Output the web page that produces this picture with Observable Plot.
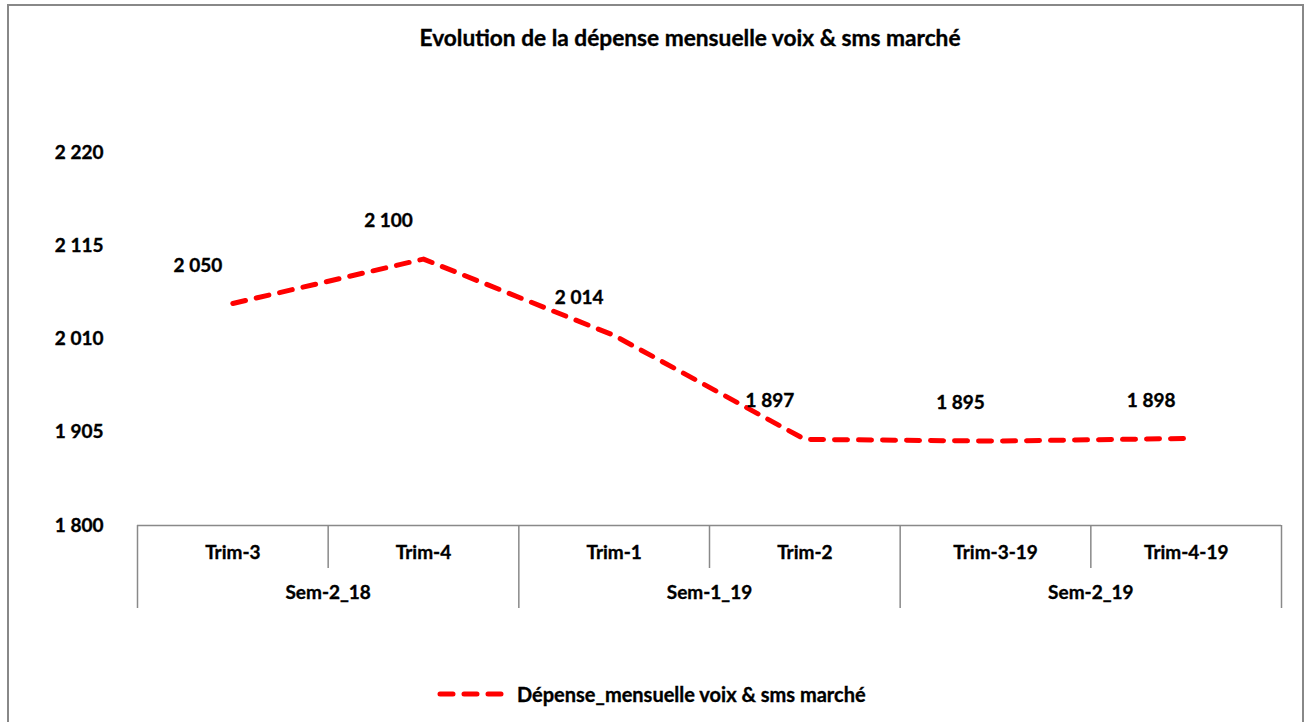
<!DOCTYPE html>
<html>
<head>
<meta charset="utf-8">
<script src="https://cdn.jsdelivr.net/npm/d3@7"></script>
<script src="https://cdn.jsdelivr.net/npm/@observablehq/plot@0.6"></script>
<style>
  html, body { margin: 0; padding: 0; background: #fff; overflow: hidden; }
  #fig { position: relative; width: 1311px; height: 722px; overflow: hidden; font-family: Lato, "Open Sans", sans-serif; font-weight: bold; color: #000; }
  #border { position: absolute; left: 7px; top: 4px; width: 1293px; height: 760px; border: 2px solid #888; }
  #title { position: absolute; left: 0; width: 1380px; top: 24px; text-align: center; font-size: 22.7px; -webkit-text-stroke: 0.35px #000; }
  #chart { position: absolute; left: 0; top: 0; }
  #legend { position: absolute; left: 437px; top: 682px; display: flex; align-items: center; font-size: 20px; -webkit-text-stroke: 0.35px #000; }
  #legend svg { margin-right: 8px; }
  #chart text { stroke: #000; stroke-width: 0.35px; }
</style>
</head>
<body>
<div id="fig">
  <div id="border"></div>
  <div id="title">Evolution de la dépense mensuelle voix &amp; sms marché</div>
  <div id="chart"></div>
  <div id="legend"></div>
</div>
<script>
// ---- data ----
const trims = ["Trim-3", "Trim-4", "Trim-1", "Trim-2", "Trim-3-19", "Trim-4-19"];
const semesters = ["Sem-2_18", "Sem-2_18", "Sem-1_19", "Sem-1_19", "Sem-2_19", "Sem-2_19"];
const values = [2050, 2100, 2014, 1897, 1895, 1898];
const yTicks = [1800, 1905, 2010, 2115, 2220];
const seriesName = "Dépense_mensuelle voix & sms marché";

// ---- derived ----
const fmt = d3.formatLocale({thousands: " ", grouping: [3], decimal: ","}).format(",d");
const data = values.map((v, i) => ({i, v, trim: trims[i], sem: semesters[i]}));
const groups = d3.groups(data, d => d.sem).map(([sem, rows]) => ({
  sem,
  start: d3.min(rows, d => d.i) - 0.5,
  end: d3.max(rows, d => d.i) + 0.5
}));
const groupBounds = Array.from(new Set(groups.flatMap(g => [g.start, g.end])));
const innerBounds = groups.flatMap(g => d3.range(g.start + 1, g.end, 1));
const groupCenters = groups.map(g => (g.start + g.end) / 2);
const groupLabel = new Map(groups.map(g => [(g.start + g.end) / 2, g.sem]));

const axisColor = "#898989";
const red = "#ff0000";

const chart = Plot.plot({
  width: 1311,
  height: 660,
  marginLeft: 137,
  marginRight: 30,
  marginTop: 152,
  marginBottom: 135,
  style: {fontFamily: "Lato, 'Open Sans', sans-serif", fontWeight: "bold", fontSize: "19px", color: "#000", background: "transparent", overflow: "visible"},
  x: {type: "linear", domain: [-0.5, trims.length - 0.5], axis: null},
  y: {domain: [yTicks[0], yTicks[yTicks.length - 1]], axis: null},
  marks: [
    Plot.axisY(yTicks, {tickSize: 0, tickPadding: 34, tickFormat: fmt, label: null, fontSize: 19, fontWeight: "bold"}),
    Plot.ruleY([yTicks[0]], {stroke: axisColor, strokeWidth: 1.5}),
    Plot.axisX(innerBounds, {anchor: "bottom", tickSize: 43, tickFormat: () => "", label: null, stroke: axisColor, strokeWidth: 1.5, strokeOpacity: 1}),
    Plot.axisX(groupBounds, {anchor: "bottom", tickSize: 83, tickFormat: () => "", label: null, stroke: axisColor, strokeWidth: 1.5, strokeOpacity: 1}),
    Plot.axisX(data.map(d => d.i), {anchor: "bottom", tickSize: 0, tickPadding: 20, tickFormat: i => trims[i], label: null, fontSize: 19, fontWeight: "bold"}),
    Plot.axisX(groupCenters, {anchor: "bottom", tickSize: 0, tickPadding: 60, tickFormat: c => groupLabel.get(c), label: null, fontSize: 19, fontWeight: "bold"}),
    Plot.line(data, {x: "i", y: "v", stroke: red, strokeWidth: 5, strokeDasharray: "13,11", strokeLinecap: "round", strokeLinejoin: "round"}),
    Plot.text(data, {x: "i", y: "v", text: d => fmt(d.v), dx: -35, dy: -38, fontSize: 19, fontWeight: "bold", fill: "#000"})
  ]
});
document.getElementById("chart").appendChild(chart);

// legend
const leg = document.getElementById("legend");
const sw = d3.create("svg").attr("width", 72).attr("height", 12);
sw.append("line").attr("x1", 3).attr("x2", 68).attr("y1", 6).attr("y2", 6)
  .attr("stroke", red).attr("stroke-width", 5).attr("stroke-linecap", "round").attr("stroke-dasharray", "13,11");
leg.appendChild(sw.node());
const lt = document.createElement("span");
lt.textContent = seriesName;
leg.appendChild(lt);
</script>
</body>
</html>
